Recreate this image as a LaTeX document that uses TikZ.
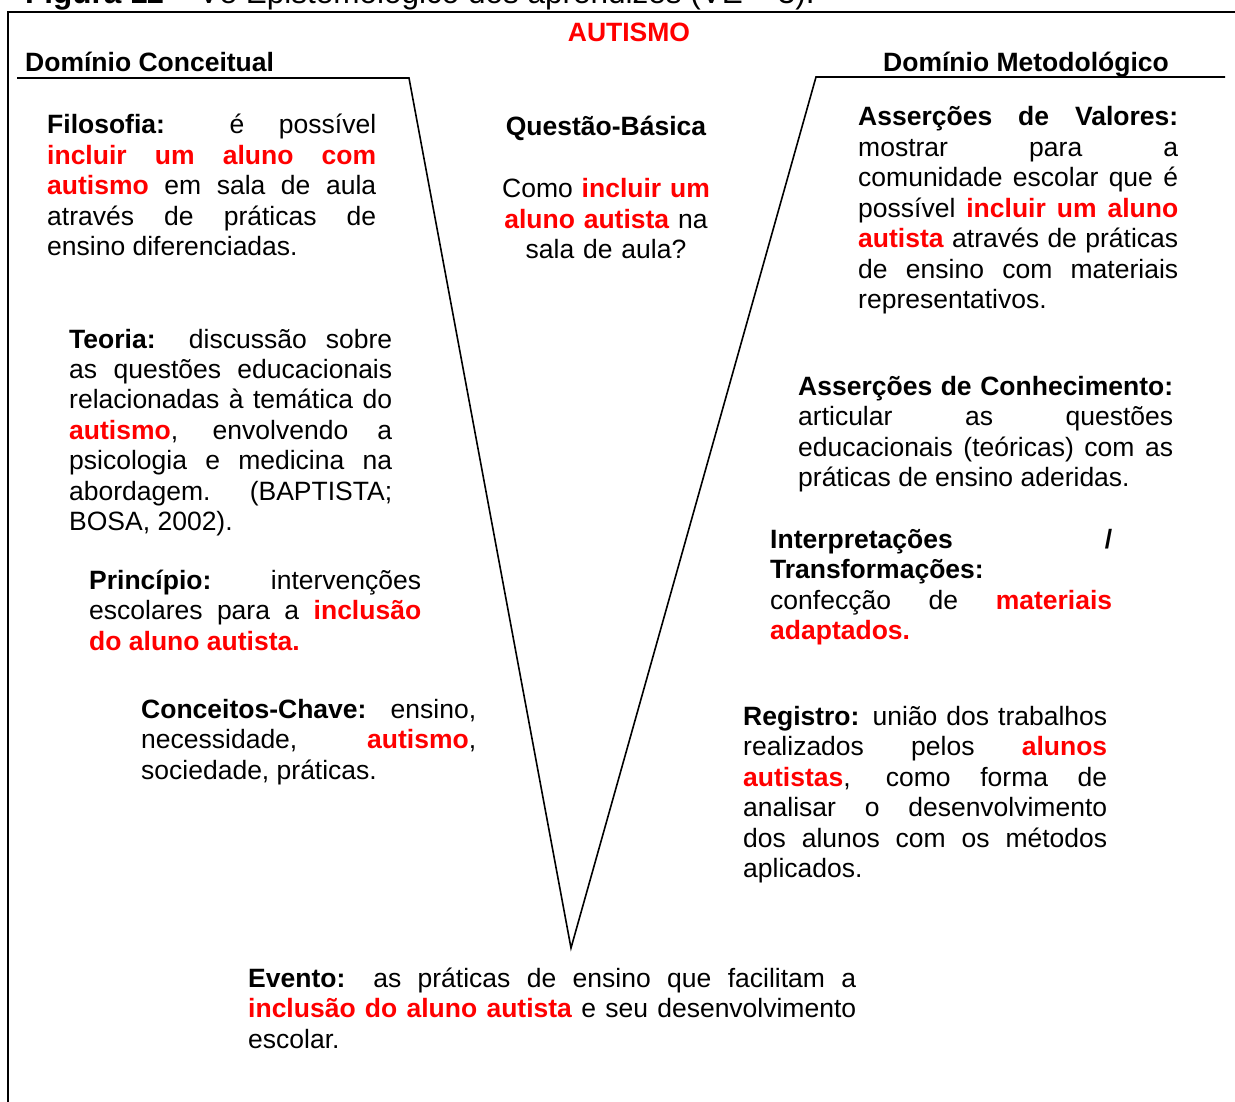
\documentclass[tikz,border=0pt]{standalone}
\usepackage{fontspec}
\setmainfont{Liberation Sans}
\usetikzlibrary{positioning}

\newcommand{\realce}[1]{\textcolor{red}{\textbf{#1}}}
\tolerance=10000
\hbadness=10000
\hyphenpenalty=10000

\tikzset{
  texto/.style={anchor=base west, inner sep=0pt, font=\fontsize{26.5}{30.5}\selectfont},
  bloco/.style={texto, align=justify, text width=#1},
  titulo/.style={texto, font=\fontsize{26.5}{30.5}\selectfont\bfseries},
  linhaV/.style={line width=1.6pt},
}

\begin{document}
\begin{tikzpicture}[x=1pt, y=-1pt]
  \useasboundingbox (0,0) rectangle (1235,1102);

  % legenda cortada e moldura
  \node[texto, font=\fontsize{31.5}{36}\selectfont] (legenda) at (25,4) {\textbf{Figura 11} – Vê Epistemológico dos aprendizes (VE – 3).};
  \draw[line width=2pt] (8,1102) -- (8,12) -- (1235,12);

  % o V
  \coordinate (esqA) at (17,78);
  \coordinate (esqB) at (409,78);
  \coordinate (ponta) at (571,948);
  \coordinate (dirB) at (816,77);
  \coordinate (dirA) at (1225,77);
  \draw[linhaV] (esqA) -- (esqB) -- (ponta) -- (dirB) -- (dirA);

  % titulos
  \node[titulo, anchor=base, text=red] (autismo) at (629,42) {AUTISMO};
  \node[titulo] (conceitual) at (25,72) {Domínio Conceitual};
  \node[titulo] (metodologico) at (883,72) {Domínio Metodológico};

  % lado conceitual
  \node[bloco=329pt] (filosofia) at (47,134) {\textbf{Filosofia:} é possível\linebreak
    \realce{incluir um aluno com\linebreak autismo} em sala de aula\linebreak
    através de práticas de\linebreak ensino diferenciadas.};
  \node[bloco=323pt] (teoria) at (69,348) {\textbf{Teoria:} discussão sobre\linebreak
    as questões educacionais\linebreak relacionadas à temática do\linebreak
    \realce{autismo}, envolvendo a\linebreak psicologia e medicina na\linebreak
    abordagem. (BAPTISTA;\linebreak BOSA, 2002).};
  \node[bloco=332pt] (principio) at (89,589) {\textbf{Princípio:} intervenções\linebreak
    escolares para a \realce{inclusão\linebreak do aluno autista.}};
  \node[bloco=335pt] (conceitos) at (141,718) {\textbf{Conceitos-Chave:} ensino,\linebreak
    necessidade, \realce{autismo},\linebreak sociedade, práticas.};

  % centro
  \node[titulo, anchor=base] (questao) at (606,136) {Questão-Básica};
  \node[texto, anchor=base, align=center, text width=280pt] (pergunta) at (606,198) {Como \realce{incluir um}\\
    \realce{aluno autista} na\\ sala de aula?};

  % lado metodologico
  \node[bloco=320pt] (valores) at (858,126) {\textbf{Asserções de Valores:}\linebreak
    mostrar para a\linebreak comunidade escolar que é\linebreak
    possível \realce{incluir um aluno\linebreak autista} através de práticas\linebreak
    de ensino com materiais\linebreak representativos.};
  \node[bloco=375pt] (conhecimento) at (798,395) {\textbf{Asserções de Conhecimento:}\linebreak
    articular as questões\linebreak educacionais (teóricas) com as\linebreak
    práticas de ensino aderidas.};
  \node[bloco=342pt] (interpretacoes) at (770,548) {\textbf{Interpretações /}\linebreak
    \textbf{Transformações:}\newline confecção de \realce{materiais\linebreak adaptados.}};
  \node[bloco=364pt] (registro) at (743,725) {\textbf{Registro:} união dos trabalhos\linebreak
    realizados pelos \realce{alunos\linebreak autistas}, como forma de\linebreak
    analisar o desenvolvimento\linebreak dos alunos com os métodos\linebreak aplicados.};

  % base do V
  \node[bloco=608pt] (evento) at (248,987) {\textbf{Evento:} as práticas de ensino que facilitam a\linebreak
    \realce{inclusão do aluno autista} e seu desenvolvimento\linebreak escolar.};
\end{tikzpicture}
\end{document}
